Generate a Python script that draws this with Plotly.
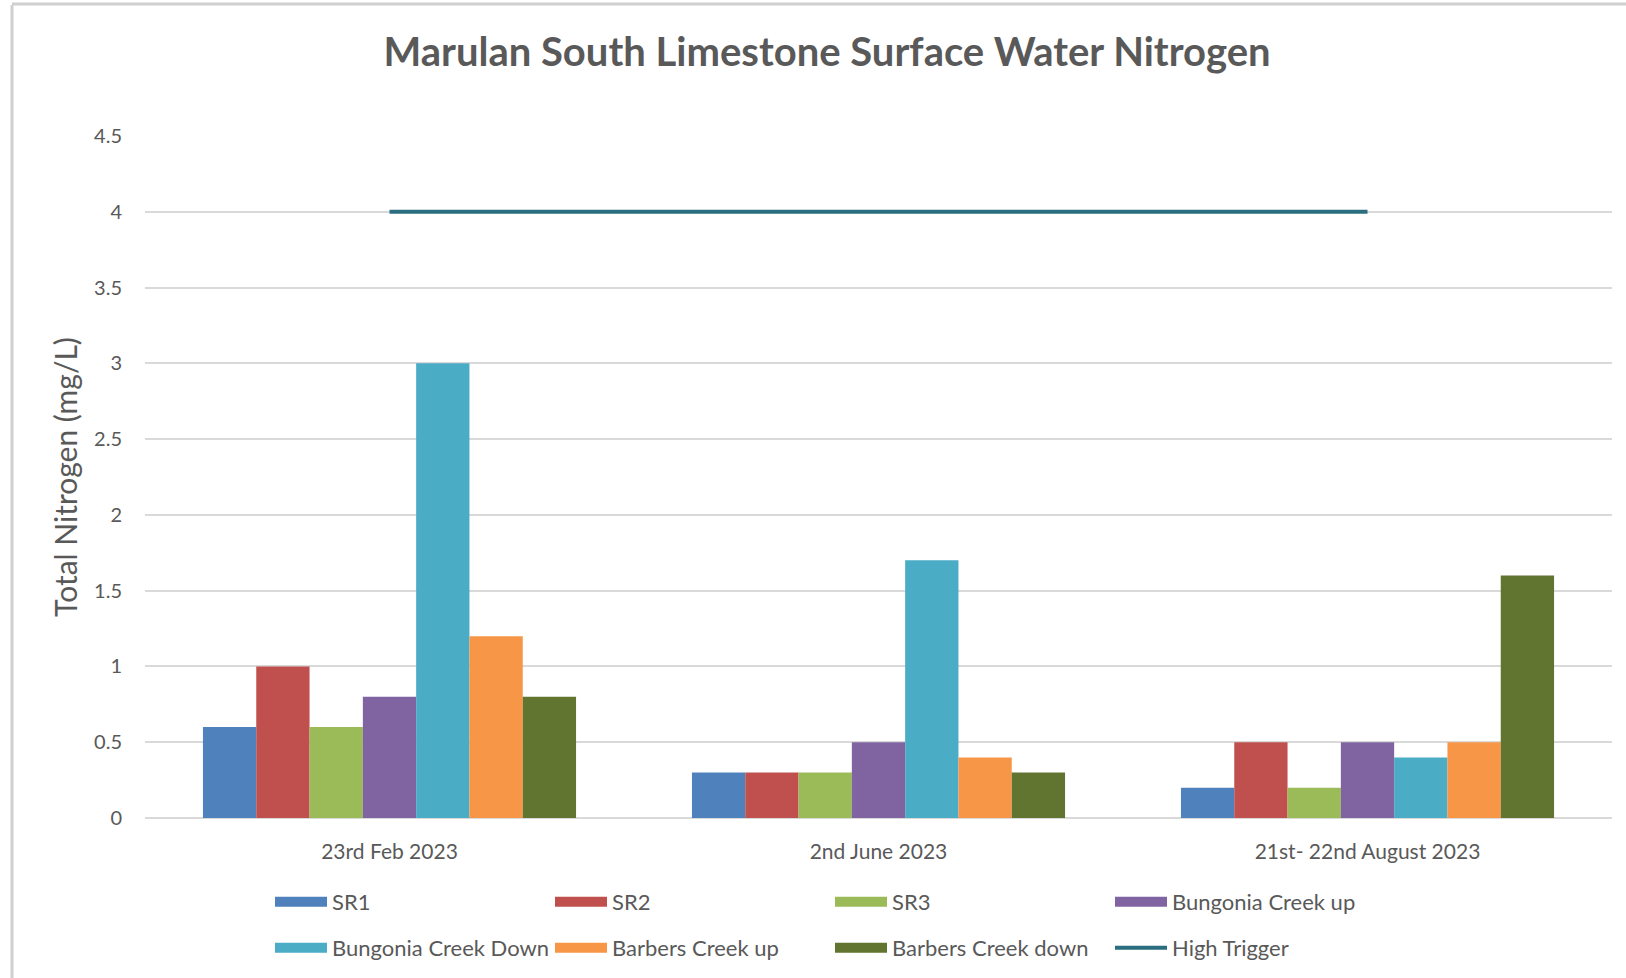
import plotly.graph_objects as go

categories = ["23rd Feb 2023", "2nd June 2023", "21st- 22nd August 2023"]
series_names = ["SR1", "SR2", "SR3", "Bungonia Creek up",
                "Bungonia Creek Down", "Barbers Creek up", "Barbers Creek down"]
sr1 = [0.6, 0.3, 0.2]
sr2 = [1.0, 0.3, 0.5]
sr3 = [0.6, 0.3, 0.2]
bungonia_up = [0.8, 0.5, 0.5]
bungonia_down = [3.0, 1.7, 0.4]
barbers_up = [1.2, 0.4, 0.5]
barbers_down = [0.8, 0.3, 1.6]
high_trigger = [4, 4, 4]
y_ticks = [0, 0.5, 1, 1.5, 2, 2.5, 3, 3.5, 4, 4.5]

series_values = [sr1, sr2, sr3, bungonia_up, bungonia_down, barbers_up, barbers_down]
colors = ["#4F81BD", "#C0504D", "#9BBB59", "#8064A2", "#4BACC6", "#F79646", "#617530"]
trigger_color = "#2A6E7F"

FONT = "Lato"
GRAY = "#595959"

fig = go.Figure()
for i, (name, vals, col) in enumerate(zip(series_names, series_values, colors)):
    leg = "legend" if i < 4 else "legend2"
    fig.add_trace(go.Bar(x=categories, y=vals, name=name, marker_color=col,
                         marker_line_width=0, showlegend=False, legendgroup=name))
    # legend swatch (wide rectangle like the original)
    fig.add_trace(go.Scatter(x=[None], y=[None], mode="lines", name=name,
                             line=dict(color=col, width=14), legend=leg,
                             legendgroup=name, hoverinfo="skip"))

fig.add_trace(go.Scatter(x=categories, y=high_trigger, mode="lines", name="High Trigger",
                         line=dict(color=trigger_color, width=4), legend="legend2"))

W, H = 1626, 978
L, R, T, B = 145, 14, 136, 160

legend_common = dict(orientation="h", font=dict(family=FONT, size=22, color=GRAY),
                     entrywidth=213, entrywidthmode="pixels", itemwidth=52,
                     xanchor="left", yanchor="middle", bgcolor="rgba(0,0,0,0)",
                     traceorder="normal", tracegroupgap=0)

lx = (270 - L) / (W - L - R)

fig.update_layout(
    width=W, height=H,
    margin=dict(l=L, r=R, t=T, b=B, autoexpand=False),
    paper_bgcolor="white", plot_bgcolor="white",
    barmode="group", bargap=0.237, bargroupgap=0,
    title=dict(text="<b>Marulan South Limestone Surface Water Nitrogen</b>",
               font=dict(family=FONT, size=40, color=GRAY),
               x=827 / W, xref="container", xanchor="center",
               y=1 - 52 / H, yref="container", yanchor="middle"),
    xaxis=dict(type="category", showgrid=False, showline=False, zeroline=False,
               tickfont=dict(family=FONT, size=21, color=GRAY), ticks="",
               ticklabelstandoff=19),
    yaxis=dict(range=[0, 4.5], tickvals=y_ticks, ticktext=[f"{v:g}" for v in y_ticks],
               showgrid=True, gridcolor="#D9D9D9", gridwidth=1.5,
               zeroline=True, zerolinecolor="#D9D9D9", zerolinewidth=1.5,
               showline=False, ticks="", ticklabelstandoff=22,
               tickfont=dict(family=FONT, size=20, color=GRAY),
               title=dict(text="Total Nitrogen (mg/L)", standoff=7,
                          font=dict(family=FONT, size=30, color=GRAY))),
    legend=dict(x=lx, y=-(902 - (H - B)) / (H - T - B), **legend_common),
    legend2=dict(x=lx, y=-(948 - (H - B)) / (H - T - B), **legend_common),
    shapes=[
        dict(type="line", xref="paper", yref="paper",
             x0=-(L - 12) / (W - L - R), x1=-(L - 12) / (W - L - R),
             y0=(H - B - 5) / (H - T - B), y1=-(B) / (H - T - B) - 0.01,
             line=dict(color="#D0D0D0", width=3)),
        dict(type="line", xref="paper", yref="paper",
             x0=-(L - 12) / (W - L - R), x1=1 + R / (W - L - R) + 0.01,
             y0=(H - B - 4) / (H - T - B), y1=(H - B - 4) / (H - T - B),
             line=dict(color="#D0D0D0", width=3)),
    ],
    showlegend=True,
)

fig.write_html("out.html", config={"displayModeBar": False},
               post_script="document.body.style.margin='0';")
